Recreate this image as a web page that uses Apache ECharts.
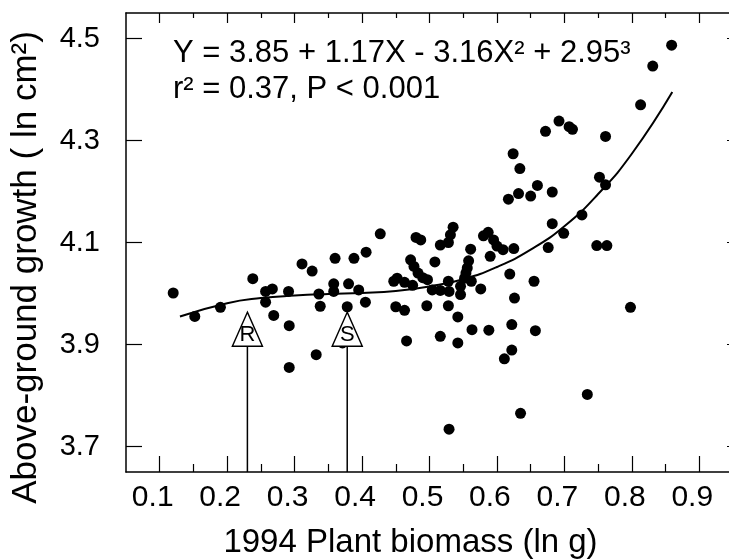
<!DOCTYPE html>
<html>
<head>
<meta charset="utf-8">
<script src="https://cdn.jsdelivr.net/npm/echarts@6.0.0/dist/echarts.min.js"></script>
<style>
html, body { margin: 0; padding: 0; background: #fff; }
#main { width: 729px; height: 560px; }
</style>
</head>
<body>
<div id="main"></div>
<script>
// plant biomass 1994 (ln g) vs above-ground growth (ln cm2)
var biomass = [
	0.120, 0.152, 0.190, 0.238, 0.257, 0.267, 0.257, 0.269, 0.291, 0.292,
	0.292, 0.311, 0.326, 0.336, 0.338, 0.332, 0.360, 0.358, 0.358, 0.380,
	0.378, 0.388, 0.395, 0.406, 0.405, 0.371, 0.427,
	0.447, 0.452, 0.463, 0.475, 0.450, 0.463, 0.466, 0.472, 0.477, 0.483,
	0.490, 0.497, 0.480, 0.487, 0.508, 0.496, 0.504, 0.516, 0.529, 0.528,
	0.516, 0.528, 0.531, 0.535, 0.546, 0.546, 0.558, 0.556, 0.554, 0.552,
	0.562, 0.561, 0.576, 0.528, 0.542, 0.516, 0.542, 0.563, 0.588, 0.529,
	0.580, 0.587, 0.595, 0.600, 0.609, 0.625, 0.590, 0.619, 0.626, 0.622,
	0.622, 0.611, 0.635, 0.655, 0.657, 0.617, 0.632, 0.650, 0.660, 0.624,
	0.634, 0.672, 0.692, 0.707, 0.712, 0.682, 0.682, 0.676, 0.699, 0.726,
	0.752, 0.761, 0.761, 0.748, 0.763, 0.813, 0.831, 0.859, 0.798, 0.734
];
var growth = [
	4.001, 3.955, 3.973, 4.029, 4.004, 4.009, 3.983, 3.957, 4.004, 3.937,
	3.855, 4.058, 4.044, 3.999, 3.975, 3.880, 4.069, 4.019, 4.004, 4.019,
	3.974, 4.069, 4.007, 4.081, 3.983, 3.903, 4.117,
	4.024, 4.030, 4.022, 4.016, 3.974, 3.967, 3.907, 4.066, 4.053, 4.040,
	4.031, 4.027, 4.110, 4.105, 4.062, 3.976, 4.007, 4.006, 4.004, 4.024,
	4.095, 4.100, 4.115, 4.130, 4.014, 3.998, 4.064, 4.050, 4.040, 4.030,
	4.024, 4.087, 4.009, 3.976, 3.954, 3.916, 3.903, 3.929, 3.928, 3.734,
	4.113, 4.120, 4.105, 4.093, 4.086, 4.088, 4.073, 4.038, 3.991, 3.939,
	3.889, 3.872, 3.765, 4.024, 3.927, 4.185, 4.196, 4.191, 4.212, 4.274,
	4.245, 4.318, 4.338, 4.327, 4.322, 4.199, 4.137, 4.090, 4.118, 4.154,
	4.228, 4.213, 4.308, 4.094, 4.094, 4.370, 4.446, 4.487, 3.973, 3.802
];

// points
var fitX = [0.13, 0.20, 0.25, 0.30, 0.35, 0.40, 0.45, 0.50, 0.55, 0.60, 0.65, 0.70, 0.75, 0.80, 0.86];
var fitY = [3.955, 3.981, 3.991, 3.996, 3.999, 4.001, 4.005, 4.014, 4.028, 4.052, 4.086, 4.132, 4.195, 4.274, 4.395];

var xTicks = [0.1, 0.2, 0.3, 0.4, 0.5, 0.6, 0.7, 0.8, 0.9];
var xMinorTicks = [0.15, 0.25, 0.35, 0.45, 0.55, 0.65, 0.75, 0.85];
var yTicks = [3.7, 3.9, 4.1, 4.3, 4.5];

// R and S markers
var arrowNames = ['R', 'S'];
var arrowX = [0.23, 0.378];
var arrowHeadY = 3.93;
var arrowBaseY = 3.895;

var eqText = 'Y = 3.85 + 1.17X - 3.16X\u00b2 + 2.95\u00b3\nr\u00b2 = 0.37, P < 0.001';

var FONT = '"Liberation Sans", Arial, Helvetica, sans-serif';

function ticksAxis(pos, vals, len, showLine) {
	return {
		type: 'value', position: pos, min: 0.05, max: 0.95,
		axisLine: { show: showLine, onZero: false, lineStyle: { color: '#000', width: 1.5 } },
		axisTick: { show: true, inside: true, length: len, customValues: vals, lineStyle: { color: '#000', width: 1.2 } },
		axisLabel: { show: false },
		splitLine: { show: false }
	};
}

var dom = document.getElementById('main');
var myChart = echarts.init(dom);

var points = biomass.map(function (b, i) { return [b, growth[i]]; });
var fit = fitX.map(function (x, i) { return [x, fitY[i]]; });

var series = [{
	type: 'scatter',
	data: points,
	symbol: 'circle',
	symbolSize: 11,
	itemStyle: { color: '#000', opacity: 1 },
	silent: true
}, {
	type: 'line',
	data: fit,
	smooth: true,
	showSymbol: false,
	lineStyle: { color: '#000', width: 2 },
	silent: true
}];

arrowNames.forEach(function (n, i) {
	series.push({
		type: 'line',
		data: [[arrowX[i], 3.65], [arrowX[i], arrowBaseY]],
		showSymbol: false,
		lineStyle: { color: '#000', width: 1.5 },
		silent: true
	});
	series.push({
		type: 'scatter',
		data: [{ name: n, value: [arrowX[i], arrowHeadY] }],
		symbol: 'triangle',
		symbolSize: [30, 34],
		itemStyle: { color: '#fff', borderColor: '#000', borderWidth: 1.5, opacity: 1 },
		label: {
			show: true, position: 'inside', formatter: '{b}', offset: [0, 6],
			color: '#000', fontFamily: FONT, fontSize: 22
		},
		z: 5,
		silent: true
	});
});

var xMain = ticksAxis('bottom', xTicks, 16, true);
xMain.axisLabel = {
	show: true, customValues: xTicks, margin: 11,
	color: '#000', fontFamily: FONT, fontSize: 30,
	padding: [0, 14, 0, 0],
	formatter: function (v) { return v.toFixed(1); }
};
xMain.name = '1994 Plant biomass (ln g)';
xMain.nameLocation = 'middle';
xMain.nameGap = 54;
xMain.nameTextStyle = { color: '#000', fontFamily: FONT, fontSize: 33, padding: [0, 38, 0, 0] };

option = {
	backgroundColor: '#fff',
	animation: false,
	grid: { left: 126, right: -4, top: 13, bottom: 88, outerBoundsMode: 'none' },
	xAxis: [
		xMain,
		ticksAxis('bottom', xMinorTicks, 8, false),
		ticksAxis('top', xTicks, 10, true),
		ticksAxis('top', xMinorTicks, 5, false)
	],
	yAxis: [{
		type: 'value', position: 'left', min: 3.65, max: 4.55,
		axisLine: { show: true, onZero: false, lineStyle: { color: '#000', width: 1.5 } },
		axisTick: { show: true, inside: true, length: 16, customValues: yTicks, lineStyle: { color: '#000', width: 1.2 } },
		axisLabel: {
			show: true, customValues: yTicks, margin: 26,
			color: '#000', fontFamily: FONT, fontSize: 29,
			formatter: function (v) { return v.toFixed(1); }
		},
		splitLine: { show: false },
		name: 'Above-ground growth ( ln cm\u00b2)',
		nameLocation: 'middle',
		nameGap: 82,
		nameTextStyle: { color: '#000', fontFamily: FONT, fontSize: 35, padding: [0, 50, 0, 0] }
	}, {
		type: 'value', position: 'right', min: 3.65, max: 4.55,
		axisLine: { show: true, onZero: false, lineStyle: { color: '#000', width: 1.5 } },
		axisTick: { show: true, inside: true, length: 6, customValues: yTicks, lineStyle: { color: '#000', width: 1.2 } },
		axisLabel: { show: false },
		splitLine: { show: false }
	}],
	graphic: [{
		type: 'text',
		left: 173,
		top: 35,
		style: {
			text: eqText,
			font: '31px ' + FONT,
			lineHeight: 36,
			fill: '#000'
		}
	}],
	series: series
};

if (option && typeof option === "object") {
	myChart.setOption(option, true);
}
</script>
</body>
</html>
